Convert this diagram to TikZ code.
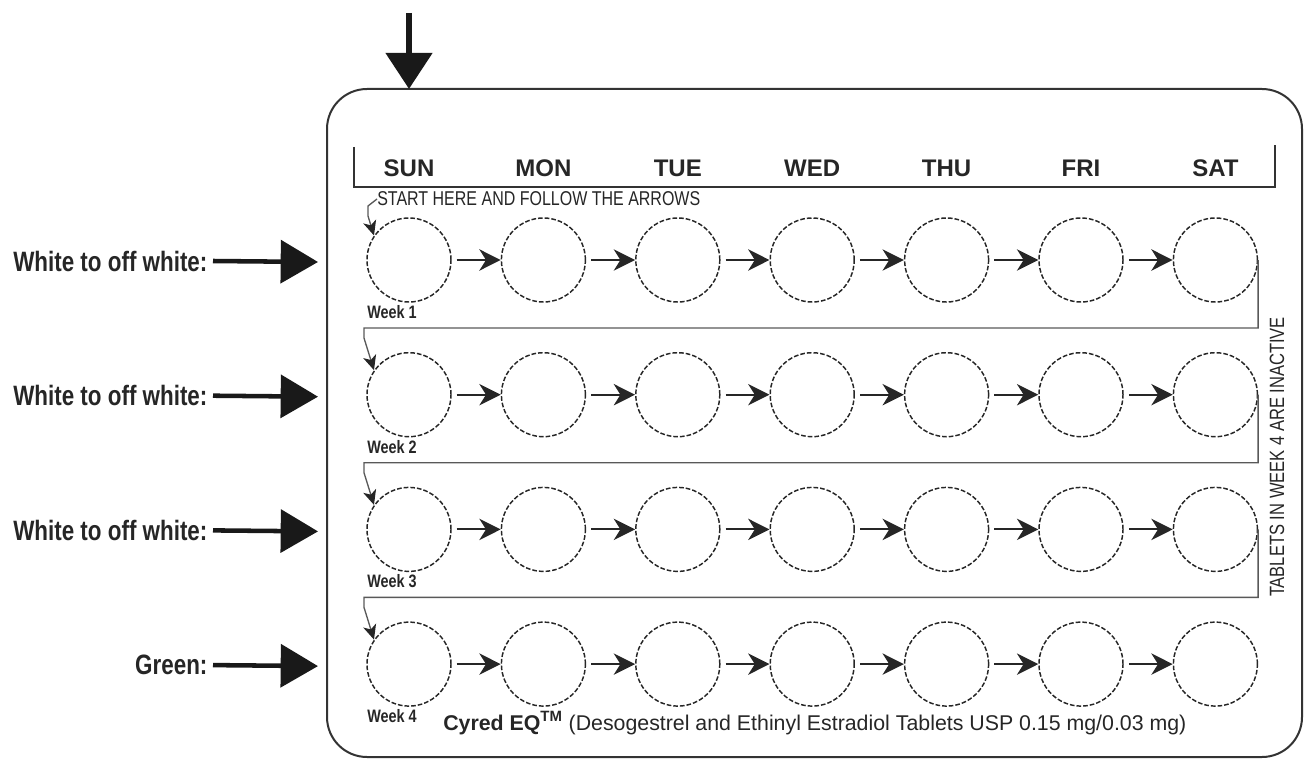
\documentclass[tikz,border=0pt]{standalone}
\usepackage{fontspec}
\setmainfont{Liberation Sans}
\newfontfamily\narrowfont[FakeStretch=0.8]{Liberation Sans}
\usetikzlibrary{arrows.meta}

\begin{document}
\begin{tikzpicture}[x=0.75pt, y=-0.75pt,
    pill/.style={circle, draw=black!85, dash pattern=on 3.5pt off 1.5pt, line width=1.1pt, minimum size=63pt, inner sep=0pt},
    dayarrow/.style={draw=black!85, line width=1.5pt, -{Stealth[length=16pt, width=16pt, inset=5pt]}},
    loopline/.style={draw=black!65, line width=1pt, -{Stealth[length=11pt, width=10pt, inset=3pt, black!85]}},
    bigarrow/.style={draw=black!90, line width=3.4pt, -{Triangle[length=28pt, width=32pt]}},
    daylabel/.style={font=\bfseries\fontsize{18}{18}\selectfont, text=black!85},
    weeklabel/.style={font=\narrowfont\bfseries\fontsize{13.5}{13.5}\selectfont, text=black!85, inner sep=0pt},
    sidelabel/.style={font=\narrowfont\bfseries\fontsize{21}{21}\selectfont, text=black!85, inner sep=4pt},
    smalltext/.style={font=\narrowfont\fontsize{15}{15}\selectfont, text=black!85, inner sep=0pt}
  ]
  \useasboundingbox (0,0) rectangle (1305,759);

  % card outline and header bracket
  \draw[black!80, line width=1.5pt, rounded corners=30pt] (327,89) rectangle (1302,757);
  \draw[black!80, line width=1.2pt] (354,147) |- (1275,187) -- (1275,145);

  \foreach \d [count=\c] in {SUN,MON,TUE,WED,THU,FRI,SAT}
    \node[daylabel] (day\c) at ({409+134.4*(\c-1)},168) {\d};

  % tablets
  \foreach \r in {1,...,4}
    \foreach \c in {1,...,7}
      \node[pill] (t\r\c) at ({409+134.4*(\c-1)},{260+134.7*(\r-1)}) {};

  \foreach \r in {1,...,4}
    \foreach \c [count=\n from 2] in {1,...,6}
      \draw[dayarrow] ([xshift=3.75pt]t\r\c.east) -- (t\r\n.west);

  \foreach \r in {1,...,4}
    \node[weeklabel, anchor=west] (wk\r) at (367,{312+134.7*(\r-1)}) {Week \r};

  % start arrow and week-to-week connectors
  \node[smalltext, anchor=west] (start) at (377,199) {START HERE AND FOLLOW THE ARROWS};
  \draw[loopline] (start.west) -- ++(-9,7) -- ++(0,10) -- (t11.145);
  \foreach \r [count=\n from 2] in {1,2,3} {
    \coordinate (turn\r) at (364,{328+134.7*(\r-1)});
    \draw[loopline] (t\r7.east) |- (turn\r) -- ++(0,10) -- (t\n1.145);
  }

  \node[smalltext, rotate=90, font=\narrowfont\fontsize{15.5}{15.5}\selectfont] (inactive) at (1277,457) {TABLETS IN WEEK 4 ARE INACTIVE};

  \node[anchor=base west, inner sep=0pt, text=black!85, font=\fontsize{16}{16}\selectfont] (brand) at (443,730)
    {\textbf{Cyred EQ\textsuperscript{TM}} (Desogestrel and Ethinyl Estradiol Tablets USP 0.15 mg/0.03 mg)};

  % colour labels
  \foreach \lab [count=\r] in {White to off white:, White to off white:, White to off white:, Green:} {
    \node[sidelabel, anchor=east] (side\r) at (213,{261+134.7*(\r-1)}) {\lab};
    \coordinate (in\r) at (318,{262+134.7*(\r-1)});
    \draw[bigarrow] (side\r.east) -- (in\r);
  }

  \coordinate (top) at (409,13);
  \coordinate (corner) at (409,89);
  \draw[bigarrow, line width=5pt, -{Triangle[length=27pt, width=34pt]}] (top) -- (corner);
\end{tikzpicture}
\end{document}
